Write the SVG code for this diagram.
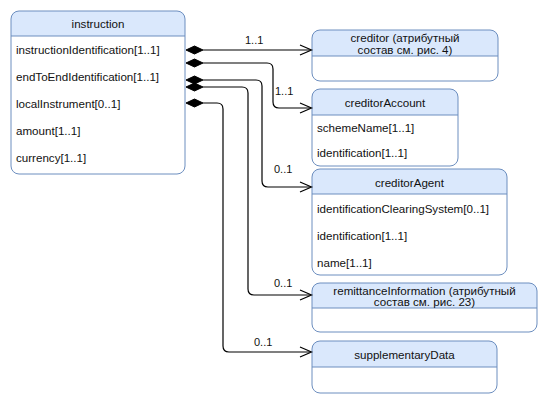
<svg xmlns="http://www.w3.org/2000/svg" width="547" height="403" viewBox="0 0 547 403">
<style>
.hdr{fill:#dae8fc;stroke:none}
.box{fill:none;stroke:#6c8ebf;stroke-width:1}
.body{fill:#ffffff;stroke:none}
.sep{stroke:#6c8ebf;stroke-width:1}
text{font-family:"Liberation Sans",Arial,sans-serif;font-size:11.6px;fill:#111}
.t{text-anchor:middle;dominant-baseline:central}
.r{dominant-baseline:central}
.edge{fill:none;stroke:#000;stroke-width:1.2}
.arr{fill:none;stroke:#000;stroke-width:1.2}
.dia{fill:#000;stroke:#000;stroke-width:1}
.lbl{font-size:11px;dominant-baseline:central}
</style>
<rect width="547" height="403" fill="#ffffff"/>

<g id="instruction">
<rect class="body" x="11" y="11" width="174" height="163" rx="8"/>
<path class="hdr" d="M11,36 V19 Q11,11 19,11 H177 Q185,11 185,19 V36 Z"/>
<line class="sep" x1="11" y1="36" x2="185" y2="36"/>
<rect class="box" x="11" y="11" width="174" height="163" rx="8"/>
<text class="t" x="98" y="23.5">instruction</text>
<text class="r" x="16" y="49">instructionIdentification[1..1]</text>
<text class="r" x="16" y="76">endToEndIdentification[1..1]</text>
<text class="r" x="16" y="103">localInstrument[0..1]</text>
<text class="r" x="16" y="130">amount[1..1]</text>
<text class="r" x="16" y="157">currency[1..1]</text>
</g>

<g id="creditor">
<rect class="body" x="312" y="30" width="186" height="51" rx="8"/>
<path class="hdr" d="M312,56 V38 Q312,30 320,30 H490 Q498,30 498,38 V56 Z"/>
<line class="sep" x1="312" y1="56" x2="498" y2="56"/>
<rect class="box" x="312" y="30" width="186" height="51" rx="8"/>
<text class="t" x="405" y="37.5">creditor (атрибутный</text>
<text class="t" x="405" y="49">состав см. рис. 4)</text>
</g>

<g id="creditorAccount">
<rect class="body" x="312" y="89" width="146" height="77" rx="8"/>
<path class="hdr" d="M312,115 V97 Q312,89 320,89 H450 Q458,89 458,97 V115 Z"/>
<line class="sep" x1="312" y1="115" x2="458" y2="115"/>
<rect class="box" x="312" y="89" width="146" height="77" rx="8"/>
<text class="t" x="385" y="102">creditorAccount</text>
<text class="r" x="317" y="127.5">schemeName[1..1]</text>
<text class="r" x="317" y="152">identification[1..1]</text>
</g>

<g id="creditorAgent">
<rect class="body" x="312" y="169" width="195" height="106" rx="8"/>
<path class="hdr" d="M312,194 V177 Q312,169 320,169 H499 Q507,169 507,177 V194 Z"/>
<line class="sep" x1="312" y1="194" x2="507" y2="194"/>
<rect class="box" x="312" y="169" width="195" height="106" rx="8"/>
<text class="t" x="409.5" y="182">creditorAgent</text>
<text class="r" x="317" y="208">identificationClearingSystem[0..1]</text>
<text class="r" x="317" y="235">identification[1..1]</text>
<text class="r" x="317" y="262">name[1..1]</text>
</g>

<g id="remittanceInformation">
<rect class="body" x="312" y="283" width="225" height="49" rx="8"/>
<path class="hdr" d="M312,308 V291 Q312,283 320,283 H529 Q537,283 537,291 V308 Z"/>
<line class="sep" x1="312" y1="308" x2="537" y2="308"/>
<rect class="box" x="312" y="283" width="225" height="49" rx="8"/>
<text class="t" x="424.5" y="290">remittanceInformation (атрибутный</text>
<text class="t" x="424.5" y="301.5">состав см. рис. 23)</text>
</g>

<g id="supplementaryData">
<rect class="body" x="312" y="341" width="185" height="52" rx="8"/>
<path class="hdr" d="M312,367 V349 Q312,341 320,341 H489 Q497,341 497,349 V367 Z"/>
<line class="sep" x1="312" y1="367" x2="497" y2="367"/>
<rect class="box" x="312" y="341" width="185" height="52" rx="8"/>
<text class="t" x="404.5" y="354.5">supplementaryData</text>
</g>

<g id="connectors">
<path class="edge" d="M203,50 H311"/>
<polyline class="arr" points="300,45 311.5,50 300,55"/>
<polygon class="dia" points="186,50 194.5,46 203,50 194.5,54"/>
<text class="lbl" x="245" y="40">1..1</text>

<path class="edge" d="M203,63 H267 Q273,63 273,69 V102 Q273,108 279,108 H311"/>
<polyline class="arr" points="300,103 311.5,108 300,113"/>
<polygon class="dia" points="186,63 194.5,59 203,63 194.5,67"/>
<text class="lbl" x="275" y="91">1..1</text>

<path class="edge" d="M203,80 H256 Q262,80 262,86 V181 Q262,187 268,187 H311"/>
<polyline class="arr" points="300,182 311.5,187 300,192"/>
<polygon class="dia" points="186,80 194.5,76 203,80 194.5,84"/>
<text class="lbl" x="274" y="169">0..1</text>

<path class="edge" d="M203,87 H242 Q248,87 248,93 V289 Q248,295 254,295 H311"/>
<polyline class="arr" points="300,290 311.5,295 300,300"/>
<polygon class="dia" points="186,87 194.5,83 203,87 194.5,91"/>
<text class="lbl" x="274" y="283">0..1</text>

<path class="edge" d="M203,103 H217 Q223,103 223,109 V346 Q223,352 229,352 H311"/>
<polyline class="arr" points="300,347 311.5,352 300,357"/>
<polygon class="dia" points="186,103 194.5,99 203,103 194.5,107"/>
<text class="lbl" x="254" y="342">0..1</text>
</g>
</svg>
